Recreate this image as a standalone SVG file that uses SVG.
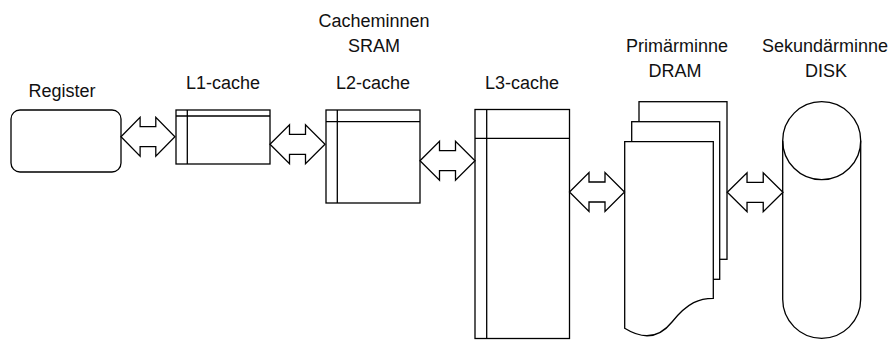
<svg xmlns="http://www.w3.org/2000/svg" xmlns:xlink="http://www.w3.org/1999/xlink" width="892" height="340" viewBox="0 0 892 340">
<style>
.s{fill:#fff;stroke:#000;stroke-width:1.3}
.l{fill:none;stroke:#000;stroke-width:1.3}
.t{font-family:"Liberation Sans",Arial,sans-serif;font-size:18px;fill:#111;text-anchor:middle}
</style>
<defs>
<polygon id="dbl" class="s" points="0,0 19.5,-19.5 19.5,-10 35.5,-10 35.5,-19.5 55,0 35.5,19.5 35.5,10 19.5,10 19.5,19.5"/>
</defs>
<rect width="892" height="340" fill="#fff"/>
<g id="register">
<text class="t" x="62" y="97">Register</text>
<rect class="s" x="11" y="110" width="110" height="62" rx="9"/>
</g>
<g id="l1">
<text class="t" x="223" y="89">L1-cache</text>
<rect class="s" x="176" y="110" width="94" height="54"/>
<path class="l" d="M176,116H270M187.3,110V164"/>
</g>
<g id="l2">
<text class="t" x="374" y="27">Cacheminnen</text>
<text class="t" x="374" y="52">SRAM</text>
<text class="t" x="373" y="89">L2-cache</text>
<rect class="s" x="326" y="110" width="94" height="93"/>
<path class="l" d="M326,121.7H420M337.3,110V203"/>
</g>
<g id="l3">
<text class="t" x="522" y="89">L3-cache</text>
<rect class="s" x="475" y="109.5" width="94.5" height="229"/>
<path class="l" d="M475,138.3H569.5M486.7,109.5V338.5"/>
</g>
<g id="dram">
<text class="t" x="677" y="52">Primärminne</text>
<text class="t" x="675" y="77">DRAM</text>
<rect class="s" x="639" y="101.7" width="88" height="157.6"/>
<rect class="s" x="631.7" y="121.7" width="88" height="157.6"/>
<path class="s" d="M624.7,141.7H713.3V298.3C700,298.3 688,302 672,322C660,337 645,341 624.7,328.3Z"/>
</g>
<g id="disk">
<text class="t" x="825" y="52">Sekundärminne</text>
<text class="t" x="826" y="77">DISK</text>
<path class="s" d="M782.7,140.7A39,39 0 0 1 860.7,140.7V299.3A39,39 0 0 1 782.7,299.3Z"/>
<path class="l" d="M782.7,140.7A39,39 0 0 0 860.7,140.7"/>
</g>
<g id="connectors">
<use xlink:href="#dbl" transform="translate(121,136.7) scale(0.98,1)"/>
<use xlink:href="#dbl" transform="translate(270,144.3)"/>
<use xlink:href="#dbl" transform="translate(420,160.7)"/>
<use xlink:href="#dbl" transform="translate(569.5,192)"/>
<use xlink:href="#dbl" transform="translate(727.3,192.3) scale(1.012,1)"/>
</g>
</svg>
